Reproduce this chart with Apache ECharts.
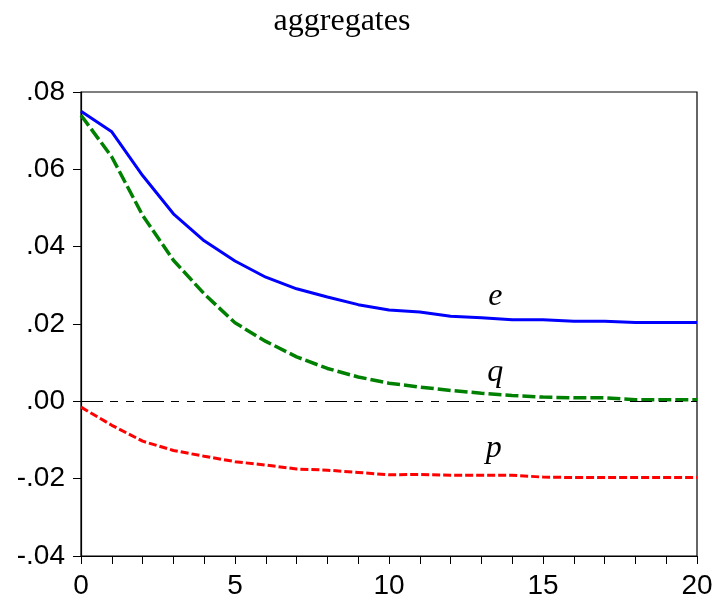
<!DOCTYPE html>
<html>
<head>
<meta charset="utf-8">
<script src="https://cdn.jsdelivr.net/npm/echarts@6/dist/echarts.min.js"></script>
<style>html,body{margin:0;padding:0;background:#fff;}#c{width:719px;height:605px;}</style>
</head>
<body>
<div id="c"></div>
<script>
const periods = [0,1,2,3,4,5,6,7,8,9,10,11,12,13,14,15,16,17,18,19,20];
const eValues = [0.0750,0.0697,0.0584,0.0485,0.0415,0.0363,0.0321,0.0291,0.0270,0.0250,0.0236,0.0231,0.0220,0.0216,0.0211,0.0211,0.0207,0.0207,0.0204,0.0204,0.0204];
const qValues = [0.0740,0.0632,0.0481,0.0365,0.0278,0.0203,0.0155,0.0115,0.0085,0.0063,0.0047,0.0037,0.0028,0.0021,0.0015,0.0011,0.0009,0.0009,0.0004,0.0004,0.0004];
const pValues = [-0.0015,-0.0062,-0.0103,-0.0127,-0.0142,-0.0156,-0.0165,-0.0175,-0.0178,-0.0184,-0.0190,-0.0189,-0.0191,-0.0191,-0.0191,-0.0196,-0.0197,-0.0197,-0.0197,-0.0197,-0.0197];
const seriesNames = ['e','q','p'];
const labelCoords = [[13.45,0.0270],[13.45,0.0074],[13.4,-0.0122]];
const titleText = 'aggregates';

function pairs(vals){ return periods.map((x,i)=>[x, vals[i]]); }
function annot(i){
  return {
    symbol:'circle', symbolSize:1, silent:true,
    itemStyle:{color:'rgba(0,0,0,0)'},
    label:{show:true, position:'inside', formatter:seriesNames[i], color:'#000',
      fontFamily:'Liberation Serif', fontStyle:'italic', fontSize:32},
    data:[{coord:labelCoords[i]}]
  };
}
const chart = echarts.init(document.getElementById('c'), null, {renderer:'canvas'});
chart.setOption({
  animation:false,
  backgroundColor:'#fff',
  title:{text:titleText, left:342, top:6, textAlign:'center', padding:0,
    textStyle:{fontFamily:'Liberation Serif', fontSize:32, fontWeight:'normal', color:'#000'}},
  grid:{left:81, right:22, top:92, bottom:49, show:true, borderColor:'#000', borderWidth:1.2, backgroundColor:'#fff'},
  xAxis:{type:'value', min:0, max:20, interval:1,
    axisLine:{show:true, onZero:false, lineStyle:{color:'#000', width:1.2}},
    axisTick:{show:true, inside:false, length:8, lineStyle:{color:'#000'}},
    axisLabel:{show:true, margin:16, color:'#000', fontFamily:'Liberation Sans', fontSize:28,
      formatter:v=> (Math.round(v)%5===0 ? String(Math.round(v)) : '')},
    splitLine:{show:false}},
  yAxis:{type:'value', min:-0.04, max:0.08, interval:0.02,
    axisLine:{show:true, onZero:false, lineStyle:{color:'#000', width:1.2}},
    axisTick:{show:true, inside:false, length:8, lineStyle:{color:'#000'}},
    axisLabel:{show:true, margin:16, color:'#000', fontFamily:'Liberation Sans', fontSize:28,
      formatter:v=>{ const s=(Math.round(v*100)/100).toFixed(2); return s.replace('0.','.'); }},
    splitLine:{show:false}},
  series:[
    {name:'zero', type:'line', data:[], silent:true,
      markLine:{silent:true, symbol:'none', label:{show:false},
        lineStyle:{color:'#000', width:1, type:[22,7,8,8,8,8]},
        data:[{yAxis:0}]}},
    {name:'p', type:'line', data:pairs(pValues), showSymbol:false, symbol:'none',
      lineStyle:{color:'#ff0000', width:3, type:[8,3]}, markPoint:annot(2)},
    {name:'q', type:'line', data:pairs(qValues), showSymbol:false, symbol:'none',
      lineStyle:{color:'#008000', width:3.5, type:[13,4]}, markPoint:annot(1)},
    {name:'e', type:'line', data:pairs(eValues), showSymbol:false, symbol:'none',
      lineStyle:{color:'#0000ff', width:3}, markPoint:annot(0)}
  ]
});
</script>
</body>
</html>
